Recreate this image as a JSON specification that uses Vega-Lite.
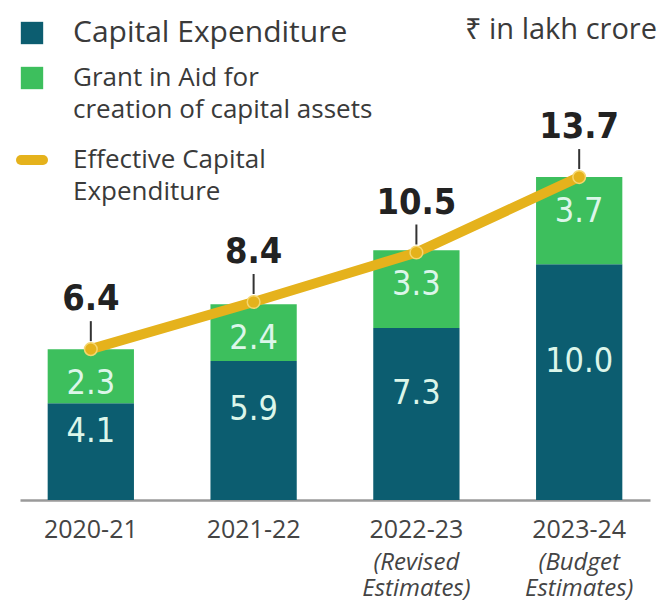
{
  "$schema": "https://vega.github.io/schema/vega-lite/v6.json",
  "autosize": "none",
  "width": 630,
  "height": 330,
  "padding": {"left": 20, "top": 170, "right": 11, "bottom": 104},
  "background": "white",
  "config": {"view": {"stroke": null}, "font": "Open Sans"},
  "title": {
    "text": "₹ in lakh crore",
    "anchor": "end",
    "orient": "top",
    "frame": "group",
    "offset": -39,
    "baseline": "middle",
    "dx": 7,
    "font": "Open Sans",
    "fontSize": 29,
    "fontWeight": "normal",
    "color": "#3a3a3a"
  },
  "datasets": {
    "bars": [
      {"year": "2020-21", "series": "Capital Expenditure", "value": 4.1},
      {"year": "2020-21", "series": "Grant in Aid for creation of capital assets", "value": 2.3},
      {"year": "2021-22", "series": "Capital Expenditure", "value": 5.9},
      {"year": "2021-22", "series": "Grant in Aid for creation of capital assets", "value": 2.4},
      {"year": "2022-23", "series": "Capital Expenditure", "value": 7.3},
      {"year": "2022-23", "series": "Grant in Aid for creation of capital assets", "value": 3.3},
      {"year": "2023-24", "series": "Capital Expenditure", "value": 10.0},
      {"year": "2023-24", "series": "Grant in Aid for creation of capital assets", "value": 3.7}
    ],
    "totals": [
      {"year": "2020-21", "total": 6.4, "note": ""},
      {"year": "2021-22", "total": 8.4, "note": ""},
      {"year": "2022-23", "total": 10.5, "note": "(Revised|Estimates)"},
      {"year": "2023-24", "total": 13.7, "note": "(Budget|Estimates)"}
    ]
  },
  "encoding": {
    "x": {
      "field": "year",
      "type": "nominal",
      "sort": null,
      "scale": {"paddingInner": 0.47, "paddingOuter": 0.17},
      "axis": {
        "title": null,
        "labelAngle": 0,
        "ticks": false,
        "labelFont": "Open Sans",
        "labelFontSize": 25,
        "labelColor": "#444444",
        "labelPadding": 17,
        "domainColor": "#9a9a9a",
        "domainWidth": 2.5
      }
    }
  },
  "layer": [
    {
      "layer": [
        {
          "data": {"name": "bars"},
          "mark": {"type": "bar"},
          "encoding": {
            "y": {"field": "value", "type": "quantitative", "stack": "zero", "scale": {"domain": [0, 14]}, "axis": null},
            "order": {"field": "series", "sort": "ascending"},
            "color": {
              "field": "series",
              "type": "nominal",
              "scale": {
                "domain": ["Capital Expenditure", "Grant in Aid for creation of capital assets", "Effective Capital Expenditure"],
                "range": ["#0c5d70", "#3dbf5d", "#e5b21c"]
              },
              "legend": {
                "title": null,
                "orient": "none",
                "legendX": -1,
                "legendY": -150,
                "direction": "vertical",
                "labelFont": "Open Sans",
                "labelFontSize": 26,
                "labelColor": "#3a3a3a",
                "labelLimit": 500,
                "labelOffset": 28,
                "labelBaseline": "middle",
                "rowPadding": 17,
                "labelExpr": "datum.label == 'Capital Expenditure' ? datum.label : datum.label == 'Effective Capital Expenditure' ? ['Effective Capital', 'Expenditure'] : ['Grant in Aid for', 'creation of capital assets']",
                "encode": {
                  "labels": {"update": {"fontSize": {"signal": "datum.label == 'Capital Expenditure' ? 30 : 26"}, "lineHeight": {"value": 32}}},
                  "symbols": {"update": {
                    "shape": {"signal": "datum.label == 'Effective Capital Expenditure' ? 'stroke' : 'square'"},
                    "size": {"signal": "datum.label == 'Effective Capital Expenditure' ? 484 : 500"},
                    "strokeWidth": {"signal": "datum.label == 'Effective Capital Expenditure' ? 10 : 0"},
                    "strokeCap": {"value": "round"},
                    "fill": {"signal": "scale('color', datum.value)"},
                    "stroke": {"signal": "scale('color', datum.value)"},
                    "opacity": {"value": 1}
                  }}
                }
              }
            }
          }
        },
        {
          "data": {"name": "bars"},
          "mark": {"type": "text", "baseline": "middle", "dy": 35, "font": "DejaVu Sans Condensed, sans-serif", "fontSize": 34, "color": "#dcf6ea"},
          "encoding": {
            "y": {"field": "value", "type": "quantitative", "stack": "zero"},
            "order": {"field": "series", "sort": "ascending"},
            "text": {"field": "value", "type": "quantitative", "format": ".1f"},
            "opacity": {"condition": {"test": "datum.series == 'Capital Expenditure'", "value": 0}, "value": 1}
          }
        },
        {
          "data": {"name": "totals"},
          "mark": {"type": "rule", "yOffset": -8, "y2Offset": -28, "color": "#333333", "strokeWidth": 2},
          "encoding": {
            "y": {"field": "total", "type": "quantitative"},
            "y2": {"field": "total"}
          }
        },
        {
          "data": {"name": "totals"},
          "mark": {"type": "line", "strokeWidth": 10, "strokeCap": "round", "strokeJoin": "round"},
          "encoding": {
            "y": {"field": "total", "type": "quantitative"},
            "color": {"datum": "Effective Capital Expenditure"}
          }
        },
        {
          "data": {"name": "totals"},
          "mark": {"type": "point", "filled": true, "size": 160, "color": "#e5b21c", "stroke": "#f5d66e", "strokeWidth": 1.5, "opacity": 1},
          "encoding": {
            "y": {"field": "total", "type": "quantitative"}
          }
        },
        {
          "data": {"name": "totals"},
          "mark": {"type": "text", "baseline": "middle", "dy": -50, "font": "DejaVu Sans Condensed, sans-serif", "fontWeight": "bold", "fontSize": 36, "color": "#222222"},
          "encoding": {
            "y": {"field": "total", "type": "quantitative"},
            "text": {"field": "total", "type": "quantitative", "format": ".1f"}
          }
        },
        {
          "data": {"name": "totals"},
          "mark": {"type": "text", "baseline": "top", "dy": 51, "lineBreak": "|", "lineHeight": 26, "font": "Open Sans", "fontStyle": "italic", "fontSize": 24, "color": "#444444"},
          "encoding": {
            "y": {"datum": 0, "type": "quantitative"},
            "text": {"field": "note"}
          }
        }
      ]
    },
    {
      "data": {"name": "bars"},
      "transform": [{"filter": "datum.series == 'Capital Expenditure'"}],
      "mark": {"type": "text", "baseline": "middle", "dy": -20, "font": "DejaVu Sans Condensed, sans-serif", "fontSize": 34, "color": "#dcf6ea"},
      "encoding": {
        "y": {"field": "value", "type": "quantitative", "scale": {"domain": [0, 28]}, "axis": null},
        "text": {"field": "value", "type": "quantitative", "format": ".1f"}
      }
    }
  ],
  "resolve": {"scale": {"y": "independent"}}
}
